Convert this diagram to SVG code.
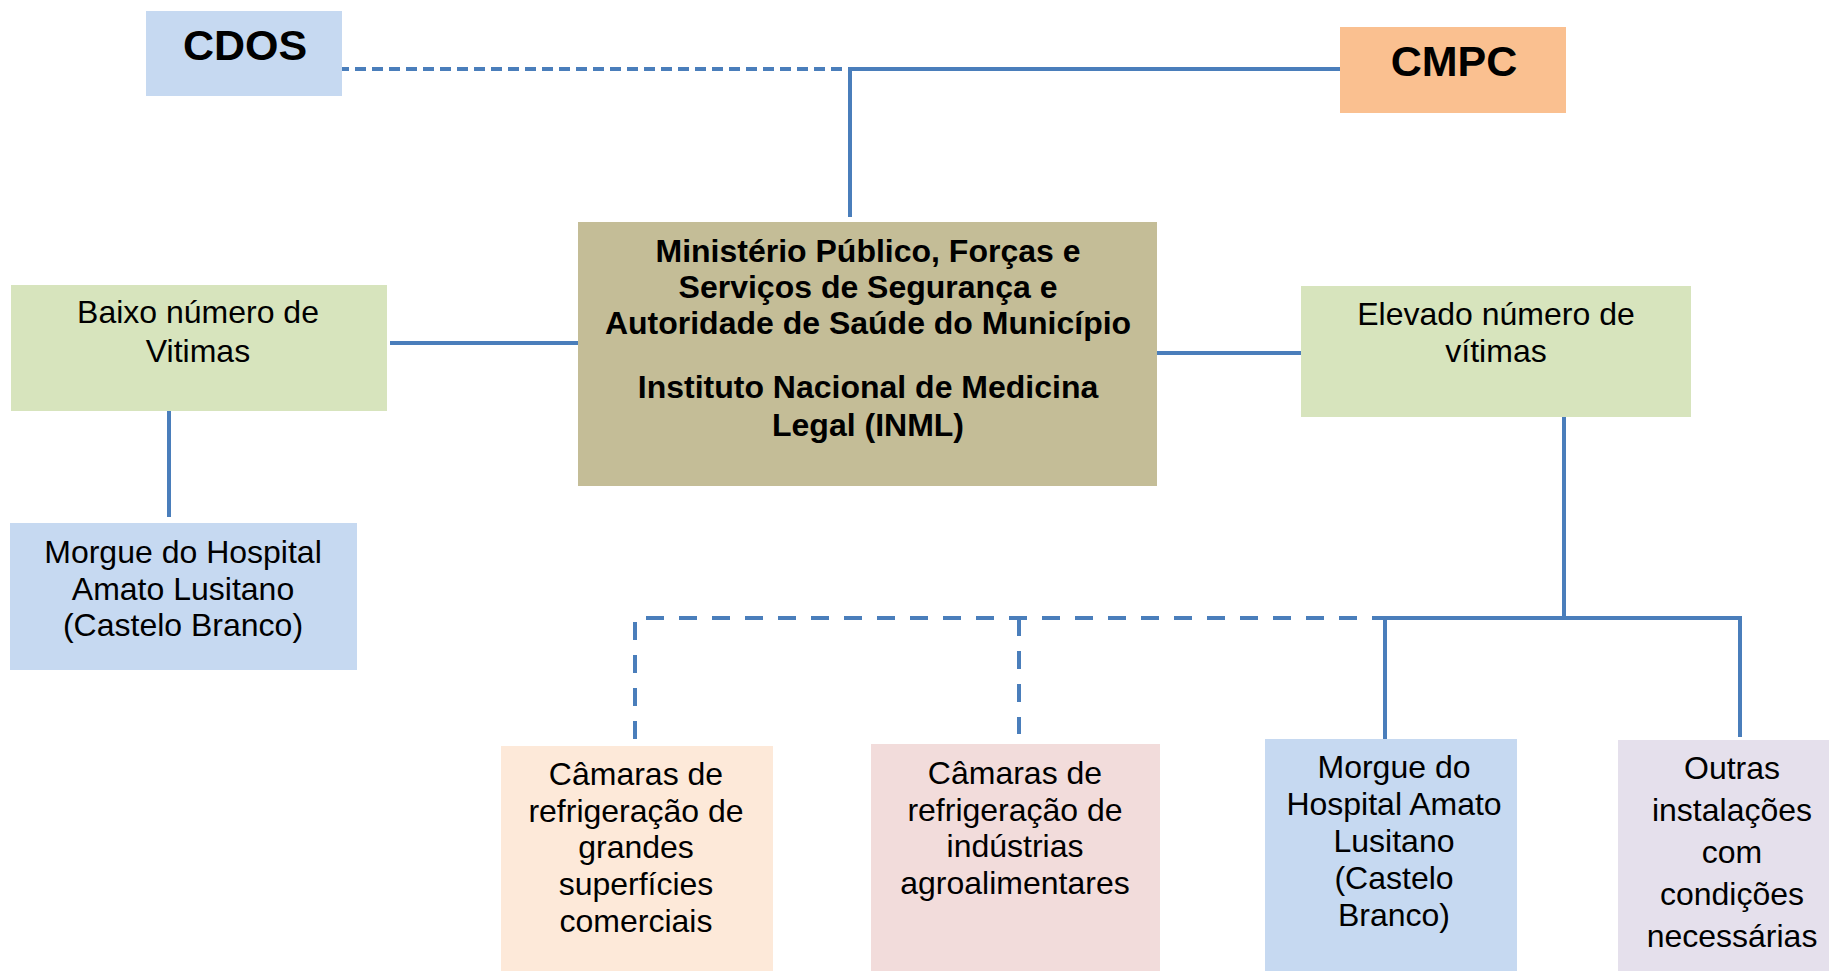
<svg xmlns="http://www.w3.org/2000/svg" width="1829" height="971" viewBox="0 0 1829 971">
<style>
text{font-family:"Liberation Sans",Arial,sans-serif;font-size:32px;fill:#000;text-anchor:middle}
.b{font-weight:bold}
.big{font-weight:bold;font-size:43px}
.ln{stroke:#4a7ebb;stroke-width:4;fill:none}
.dash{stroke-dasharray:18 15}
.dot{stroke-dasharray:11 6}
</style>
<rect width="1829" height="971" fill="#fff"/>
<g id="connectors">
<line class="ln dot" x1="338" y1="69" x2="850" y2="69"/>
<polyline class="ln" points="850,217 850,69 1340,69"/>
<line class="ln" x1="390" y1="343" x2="580" y2="343"/>
<line class="ln" x1="169" y1="404" x2="169" y2="517"/>
<line class="ln" x1="1157" y1="353" x2="1301" y2="353"/>
<line class="ln" x1="1564" y1="411" x2="1564" y2="618"/>
<polyline class="ln dash" points="635,739 635,618 1385,618"/>
<line class="ln dash" x1="1019" y1="618" x2="1019" y2="734"/>
<polyline class="ln" points="1385,739 1385,618 1740,618 1740,737"/>
</g>
<g id="cdos"><rect x="146" y="11" width="196" height="85" fill="#c6d9f1"/><text class="big" x="245" y="60">CDOS</text></g>
<g id="cmpc"><rect x="1340" y="27" width="226" height="86" fill="#fac090"/><text class="big" x="1454" y="76">CMPC</text></g>
<g id="central"><rect x="578" y="222" width="579" height="264" fill="#c4bd97"/>
<text class="b" x="868" y="262">Ministério Público, Forças e</text>
<text class="b" x="868" y="298">Serviços de Segurança e</text>
<text class="b" x="868" y="334">Autoridade de Saúde do Município</text>
<text class="b" x="868" y="398">Instituto Nacional de Medicina</text>
<text class="b" x="868" y="436">Legal (INML)</text></g>
<g id="baixo"><rect x="11" y="285" width="376" height="126" fill="#d7e4bd"/>
<text x="198" y="323">Baixo número de</text><text x="198" y="362">Vitimas</text></g>
<g id="morgue-left"><rect x="10" y="523" width="347" height="147" fill="#c6d9f1"/>
<text x="183" y="563">Morgue do Hospital</text><text x="183" y="600">Amato Lusitano</text><text x="183" y="636">(Castelo Branco)</text></g>
<g id="elevado"><rect x="1301" y="286" width="390" height="131" fill="#d7e4bd"/>
<text x="1496" y="325">Elevado número de</text><text x="1496" y="362">vítimas</text></g>
<g id="camaras1"><rect x="501" y="746" width="272" height="225" fill="#fde9d9"/>
<text x="636" y="785">Câmaras de</text><text x="636" y="822">refrigeração de</text><text x="636" y="858">grandes</text><text x="636" y="895">superfícies</text><text x="636" y="932">comerciais</text></g>
<g id="camaras2"><rect x="871" y="744" width="289" height="227" fill="#f2dcdb"/>
<text x="1015" y="784">Câmaras de</text><text x="1015" y="821">refrigeração de</text><text x="1015" y="857">indústrias</text><text x="1015" y="894">agroalimentares</text></g>
<g id="morgue-right"><rect x="1265" y="739" width="252" height="232" fill="#c6d9f1"/>
<text x="1394" y="778">Morgue do</text><text x="1394" y="815">Hospital Amato</text><text x="1394" y="852">Lusitano</text><text x="1394" y="889">(Castelo</text><text x="1394" y="926">Branco)</text></g>
<g id="outras"><rect x="1618" y="740" width="211" height="231" fill="#e5e0ec"/>
<text x="1732" y="779">Outras</text><text x="1732" y="821">instalações</text><text x="1732" y="863">com</text><text x="1732" y="905">condições</text><text x="1732" y="947">necessárias</text></g>
</svg>
